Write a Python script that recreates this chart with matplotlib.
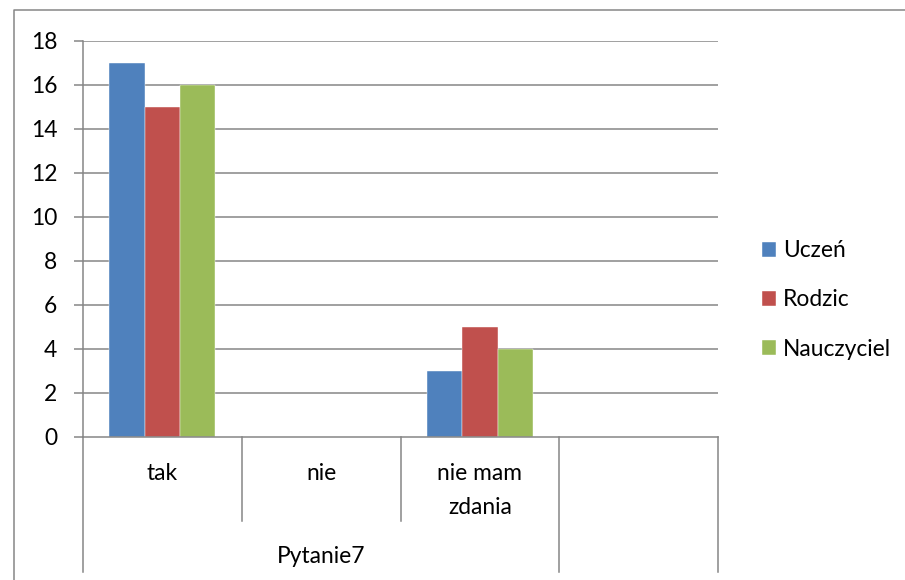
import matplotlib
matplotlib.use("Agg")
import matplotlib.pyplot as plt
from matplotlib.lines import Line2D
import numpy as np

categories = ["tak", "nie", "nie mam\nzdania", ""]
group_label = "Pytanie7"
series_names = ["Uczeń", "Rodzic", "Nauczyciel"]
uczen = [17, 0, 3, 0]
rodzic = [15, 0, 5, 0]
nauczyciel = [16, 0, 4, 0]
colors = ["#4F81BD", "#C0504D", "#9BBB59"]
yticks = [0, 2, 4, 6, 8, 10, 12, 14, 16, 18]

plt.rcParams['font.family'] = ['Lato', 'DejaVu Sans']
FS = 16.4
grid_c = "#868686"
LW = 1.1

W, H = 905, 580
fig = plt.figure(figsize=(W / 100, H / 100), dpi=100)
L, R, T, B = 83, 718, 40.5, 436.7
ax = fig.add_axes([L / W, 1 - B / H, (R - L) / W, (B - T) / H])

n = len(categories)
x = np.arange(n) + 0.5
bw = 1 / 4.5
handles = []
for i, (vals, name) in enumerate(zip([uczen, rodzic, nauczyciel], series_names)):
    h = ax.bar(x + (i - 1) * bw, vals, bw, color=colors[i], label=name, zorder=3,
               edgecolor="white", linewidth=0.3)
    handles.append(h)

ax.set_xlim(0, n)
ax.set_ylim(0, 18)
ax.set_yticks(yticks)
ax.set_yticklabels([str(v) for v in yticks], fontsize=FS)
ax.tick_params(axis='y', length=6.5, color=grid_c, width=LW, pad=12)
ax.set_xticks([])
for yv in yticks[1:]:
    ax.axhline(yv, color=grid_c, lw=LW, zorder=1)
for s in ["top", "right", "bottom"]:
    ax.spines[s].set_visible(False)
ax.spines["left"].set_color(grid_c)
ax.spines["left"].set_linewidth(LW)
ax.axhline(0, color=grid_c, lw=LW, zorder=4, clip_on=False)

tr = ax.get_xaxis_transform()
ah = B - T
def fy(py):
    return (B - py) / ah

# category dividers
for xv in [1, 2]:
    ax.add_line(Line2D([xv, xv], [0, fy(520.7)], transform=tr, color=grid_c, lw=LW, clip_on=False))
for xv in [0, 3, 4]:
    ax.add_line(Line2D([xv, xv], [0, fy(572)], transform=tr, color=grid_c, lw=LW, clip_on=False))

for xi, lab in zip(x, categories):
    if lab:
        ax.text(xi, fy(463.5), lab, transform=tr, ha="center", va="top", fontsize=FS,
                linespacing=1.76)
ax.text(1.5, fy(563.3), group_label, transform=tr, ha="center", va="baseline", fontsize=FS)

# chart border
fig.add_artist(Line2D([14 / W, 14 / W, 1], [0, 1 - 10 / H, 1 - 10 / H],
                      transform=fig.transFigure, color=grid_c, lw=LW))

fig.legend(handles=handles, labels=series_names, loc="center left",
           bbox_to_anchor=(762 / W, 1 - 300 / H), frameon=False, fontsize=FS,
           borderpad=0, borderaxespad=0,
           handlelength=0.62, handleheight=0.62, handletextpad=0.3, labelspacing=1.24)

fig.savefig("out.png", dpi=100)
